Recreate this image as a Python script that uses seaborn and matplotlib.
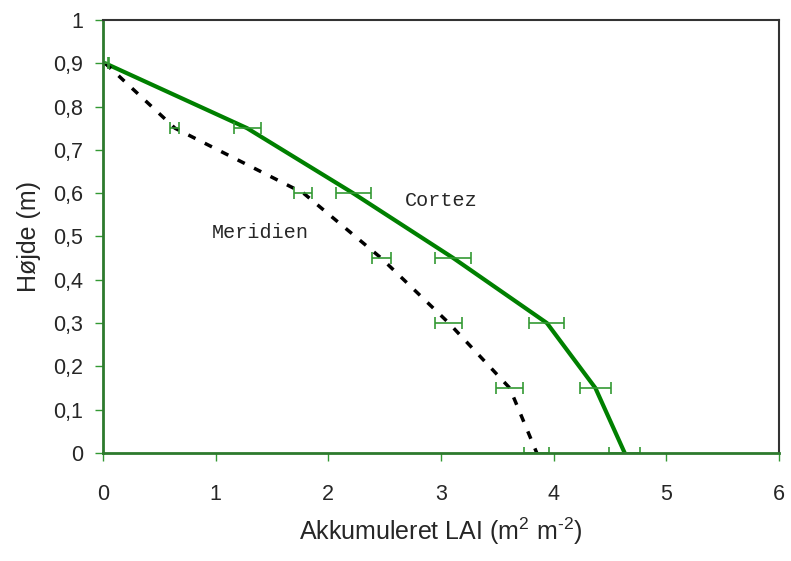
import matplotlib
matplotlib.use("Agg")
import matplotlib.pyplot as plt
import seaborn as sns
import pandas as pd

height = [0.9, 0.75, 0.6, 0.45, 0.3, 0.15, 0.0]
cortez = [0.02, 1.28, 2.22, 3.11, 3.94, 4.37, 4.63]
cortez_err = [0.035, 0.12, 0.155, 0.16, 0.155, 0.14, 0.135]
meridien = [0.02, 0.64, 1.78, 2.47, 3.07, 3.61, 3.85]
meridien_err = [0.03, 0.04, 0.08, 0.085, 0.12, 0.12, 0.11]
x_ticks = [0, 1, 2, 3, 4, 5, 6]
y_ticks = [0, 0.1, 0.2, 0.3, 0.4, 0.5, 0.6, 0.7, 0.8, 0.9, 1.0]
y_labels = ["0", "0,1", "0,2", "0,3", "0,4", "0,5", "0,6", "0,7", "0,8", "0,9", "1"]

sns.set_style("white")
plt.rcParams['font.family'] = ['Liberation Sans', 'DejaVu Sans']
plt.rcParams['mathtext.fontset'] = 'custom'
plt.rcParams['mathtext.rm'] = 'Liberation Sans'
plt.rcParams['mathtext.it'] = 'Liberation Sans'
plt.rcParams['mathtext.bf'] = 'Liberation Sans'

df_c = pd.DataFrame({"lai": cortez, "h": height})
df_m = pd.DataFrame({"lai": meridien, "h": height})

fig = plt.figure(figsize=(7.91, 5.61), dpi=100)
ax = fig.add_axes([0.130, 0.1925, 0.855, 0.772])

sns.lineplot(data=df_c, x="lai", y="h", sort=False, color="#008000", lw=3, ax=ax)
sns.lineplot(data=df_m, x="lai", y="h", sort=False, color="black", lw=2.5,
             linestyle=(0, (2.3, 3.0)), ax=ax)
ax.errorbar(cortez, height, xerr=cortez_err, fmt="none", ecolor="#339933",
            elinewidth=1.2, capsize=4, capthick=1.2)
ax.errorbar(meridien, height, xerr=meridien_err, fmt="none", ecolor="#339933",
            elinewidth=1.2, capsize=4, capthick=1.2)

ax.text(3.0, 0.584, "Cortez", family="Liberation Mono", fontsize=14.5,
        ha="center", va="center")
ax.text(1.40, 0.51, "Meridien", family="Liberation Mono", fontsize=14.5,
        ha="center", va="center")

ax.set_xlim(0, 6)
ax.set_ylim(0, 1)
ax.set_xticks(x_ticks)
ax.set_xticklabels([str(t) for t in x_ticks])
ax.set_yticks(y_ticks)
ax.set_yticklabels(y_labels)
ax.tick_params(axis="both", which="major", labelsize=15.5, length=6, width=1,
               color="#339933", direction="out", bottom=True, left=True, pad=8)
ax.tick_params(axis="x", pad=16)

for s in ["top", "right"]:
    ax.spines[s].set_color("#333333")
    ax.spines[s].set_linewidth(1.5)
for s in ["left", "bottom"]:
    ax.spines[s].set_color("#2d7a2d")
    ax.spines[s].set_linewidth(2)

ax.set_xlabel(r"Akkumuleret LAI (m$^{2}$ m$^{\text{-}2}$)", fontsize=18, labelpad=8)
ax.set_ylabel("Højde (m)", fontsize=18, labelpad=9)

fig.savefig("out.png", dpi=100)
